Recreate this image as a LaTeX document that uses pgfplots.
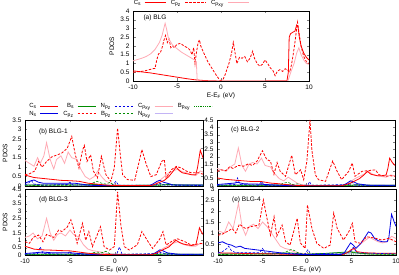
\documentclass[border=0pt]{standalone}
\usepackage{pgfplots}
\pgfplotsset{compat=1.18}
\usepackage{fontspec}
\setmainfont{Liberation Sans}
\definecolor{cred}{RGB}{255,0,0}
\definecolor{cblue}{RGB}{0,0,230}
\definecolor{cgreen}{RGB}{0,140,0}
\definecolor{lpink}{RGB}{255,170,180}
\definecolor{lpurple}{RGB}{195,180,245}
\pgfplotsset{
  cs/.style={color=cred, line width=0.8pt, solid},
  ns/.style={color=cblue, line width=0.8pt, solid},
  bs/.style={color=cgreen, line width=0.7pt, solid},
  cpz/.style={color=cred, line width=0.8pt, dash pattern=on 2.5pt off 1.5pt},
  npz/.style={color=cblue, line width=0.6pt, dash pattern=on 2.5pt off 1.5pt},
  bpz/.style={color=cgreen, line width=0.6pt, dash pattern=on 2.5pt off 1.5pt},
  cpxy/.style={color=lpink, line width=0.8pt, solid},
  npxy/.style={color=lpurple, line width=0.7pt, solid},
  bpxy/.style={color=cgreen, line width=0.6pt, dash pattern=on 0.8pt off 1pt},
  every axis/.append style={scale only axis, font=\fontsize{6.5}{7}\selectfont,
    tick align=inside, major tick length=2.5pt, axis line style={line width=0.5pt},
    /pgf/number format/assume math mode=true, xtick={-10,-5,0,5,10}, clip=true, no markers},
  mylegend/.style={legend plot pos=right, legend cell align=right,
    legend image code/.code={\draw[##1] (0pt,0pt) -- (18pt,0pt);},
    legend image post style={line width=1pt},
    legend style={draw=none, fill=none, inner sep=0pt, font=\fontsize{6}{6}\selectfont,
      nodes={inner sep=0.6pt, text height=4.3pt, text depth=1.4pt}, row sep=0.4pt,
      /tikz/every odd column/.append style={column sep=2.5pt},
      /tikz/every even column/.append style={column sep=4pt}}},
}
\begin{document}
\begin{tikzpicture}
\useasboundingbox (0,0) rectangle (399pt,275pt);
% ---------------- (a)
\begin{axis}[at={(133pt,194pt)}, anchor=south west, width=176pt, height=70pt,
  xmin=-10, xmax=10, ymin=0, ymax=4, ytick={0,0.5,...,4},
  xlabel={E-E\textsubscript{F} (eV)}, ylabel={PDOS},
  xlabel style={at={(axis description cs:0.5,-0.215)}, anchor=center},
  ylabel style={at={(axis description cs:-0.12,0.5)}, anchor=center},
  mylegend, legend columns=3,
  legend image code/.code={\draw[#1] (0pt,0pt) -- (21pt,0pt);},
  legend style={at={(0.0,1.115)}, anchor=west}]
\addplot[cs] coordinates {(-10,0.58) (-9,0.52) (-8,0.46) (-7,0.38) (-6,0.30) (-5,0.22) (-4,0.14) (-3,0.07) (-2,0.03) (-1,0.01) (0,0) (2,0) (4,0) (6,0.01) (7.5,0.02) (7.65,0.5) (7.75,2.5) (7.9,2.7) (8.2,2.8) (8.4,2.85) (8.6,3.2) (8.75,3.1) (8.9,2.5) (9.1,2.0) (9.4,1.6) (9.7,1.35) (10,1.2)};
\addlegendentry{C\textsubscript{s}}
\addplot[cpz] coordinates {(-10,0.5) (-9,0.55) (-8.3,0.62) (-7.8,0.7) (-7.5,0.72) (-7.3,1.2) (-7.1,1.55) (-6.9,1.6) (-6.7,1.9) (-6.5,2.3) (-6.3,2.6) (-6.1,2.2) (-5.9,2.4) (-5.7,1.9) (-5.5,2.0) (-5.3,1.9) (-5.0,2.1) (-4.6,2.15) (-4.2,2.0) (-3.8,1.9) (-3.5,1.75) (-3.3,1.5) (-3.1,1.9) (-2.95,1.0) (-2.8,1.6) (-2.6,2.2) (-2.45,2.35) (-2.3,2.0) (-2.0,1.65) (-1.5,1.1) (-1.0,0.7) (-0.5,0.3) (-0.1,0.03) (0.2,0.05) (0.5,0.4) (0.9,1.0) (1.2,1.6) (1.4,2.2) (1.6,1.6) (1.8,1.0) (2.1,1.35) (2.4,1.3) (2.7,1.4) (3.0,1.1) (3.3,1.3) (3.6,1.7) (3.8,1.3) (4.1,1.0) (4.4,0.85) (4.7,0.95) (5.0,1.2) (5.3,1.0) (5.6,0.75) (5.9,0.6) (6.15,0.3) (6.4,0.55) (6.7,0.65) (7.0,0.55) (7.3,0.7) (7.6,0.6) (7.8,0.5) (8.0,0.9) (8.2,1.5) (8.4,2.2) (8.6,3.0) (8.7,3.35) (8.85,2.8) (9.1,2.0) (9.4,1.4) (9.7,1.1) (10,1.0)};
\addlegendentry{C\textsubscript{p\textsubscript{z}}}
\addplot[cpxy] coordinates {(-10,1.15) (-9,1.3) (-8.5,1.4) (-8,1.55) (-7.5,1.8) (-7,2.2) (-6.7,2.6) (-6.5,3.0) (-6.35,3.3) (-6.2,3.0) (-6,2.5) (-5.8,2.3) (-5.5,2.05) (-5,1.85) (-4.5,1.65) (-4,1.5) (-3.5,1.35) (-3,1.2) (-2.8,1.1) (-2.75,0.5) (-2.7,0) (7.6,0) (7.8,0.3) (8.0,0.6) (8.3,1.0) (8.6,1.6) (8.85,1.9) (9.1,1.5) (9.4,1.2) (9.7,1.0) (10,0.95)};
\addlegendentry{C\textsubscript{p\textsubscript{xy}}}
\node[anchor=west, font=\fontsize{6.5}{7}\selectfont] at (rel axis cs:0.04,0.9) {(a) BLG};
\end{axis}
% ---------------- (b)
\begin{axis}[at={(25pt,89pt)}, anchor=south west, width=178pt, height=66pt,
  xmin=-10, xmax=9.8, ymin=0, ymax=3.5, ytick={0,0.5,...,3.5}, xticklabels={},
  ylabel={PDOS}, ylabel style={at={(axis description cs:-0.112,0.5)}, anchor=center},
  mylegend, legend columns=5,
  legend style={at={(0.02,1.15)}, anchor=west}]
\addlegendimage{cs}\addlegendimage{bs}\addlegendimage{npz}\addlegendimage{cpxy}\addlegendimage{bpxy}
\addlegendimage{ns}\addlegendimage{cpz}\addlegendimage{bpz}\addlegendimage{npxy}
\legend{C\textsubscript{s},B\textsubscript{s},N\textsubscript{p\textsubscript{z}},C\textsubscript{p\textsubscript{xy}},B\textsubscript{p\textsubscript{xy}},N\textsubscript{s},C\textsubscript{p\textsubscript{z}},B\textsubscript{p\textsubscript{z}},N\textsubscript{p\textsubscript{xy}}}
\addplot[cpxy] coordinates {(-10,1.35) (-9.5,1.2) (-9.0,1.05) (-8.6,1.5) (-8.3,1.2) (-7.9,1.6) (-7.6,2.3) (-7.2,1.4) (-6.8,0.9) (-6.5,1.4) (-6.0,1.6) (-5.6,1.2) (-5.2,1.8) (-4.8,1.5) (-4.2,1.4) (-3.8,0.9) (-3.3,0.5) (-2.8,0.35) (-2.3,0.5) (-1.9,0.8) (-1.5,0.5) (-1.0,0.25) (-0.5,0.15) (0,0.05) (1,0.02) (4,0.02) (4.5,0.1) (5.0,0.3) (5.5,0.5) (6.0,0.7) (6.5,0.8) (7.0,0.9) (7.5,0.75) (8,0.7) (8.5,0.6) (9,0.55) (9.5,0.8) (10,0.7)};
\addplot[npxy] coordinates {(-10,0.05) (-8,0.1) (-6,0.08) (-4,0.05) (0,0.0) (5,0.05) (7,0.08) (10,0.05)};
\addplot[bpxy] coordinates {(-10,0.03) (-7,0.05) (-4,0.06) (-2,0.03) (0,0) (6,0.05) (8,0.04) (10,0.05)};
\addplot[bs] coordinates {(-10,0.05) (-5,0.05) (-2,0.08) (-1.5,0.05) (0,0.02) (5,0.05) (6,0.08) (7,0.05) (10,0.05)};
\addplot[bpz] coordinates {(-10,0.02) (-3,0.05) (-2.5,0.15) (-2.0,0.25) (-1.5,0.15) (-1.0,0.1) (-0.5,0.2) (-0.2,0.05) (5,0.05) (6,0.1) (7,0.05) (10,0.02)};
\addplot[ns] coordinates {(-10,0.15) (-9.5,0.25) (-9,0.32) (-8.5,0.2) (-8,0.15) (-6,0.15) (-4.5,0.15) (-3,0.05) (-2,0.02) (3.8,0.02) (4.2,0.1) (4.7,0.25) (5.0,0.3) (5.4,0.2) (5.8,0.15) (6.5,0.05) (10,0.05)};
\addplot[npz] coordinates {(-10,0.05) (-9.6,0.15) (-9.3,0.3) (-9.0,0.1) (-8,0.05) (-5.3,0.08) (-5.0,0.2) (-4.7,0.05) (-0.2,0.05) (0.1,0.25) (0.4,0.05) (4.5,0.05) (5.0,0.15) (5.5,0.05) (10,0.02)};
\addplot[cs] coordinates {(-10,0.58) (-9,0.45) (-8,0.4) (-7,0.35) (-6,0.3) (-5,0.28) (-4,0.25) (-3,0.15) (-2,0.1) (-1,0.05) (0,0.02) (4,0.02) (4.5,0.1) (5,0.2) (5.5,0.3) (6,0.5) (6.5,0.8) (6.8,1.0) (7.2,0.8) (7.5,0.7) (8,0.65) (8.5,0.6) (9,0.6) (9.2,1.0) (9.5,1.9) (9.8,1.5) (10,1.4)};
\addplot[cpz] coordinates {(-10,0.6) (-9.5,0.65) (-8.9,0.8) (-8.5,1.3) (-8.1,1.0) (-7.6,1.3) (-7.0,1.55) (-6.4,1.65) (-5.9,1.75) (-5.3,2.0) (-4.8,2.63) (-4.4,1.65) (-4.0,0.95) (-3.6,1.9) (-3.4,2.15) (-3.1,1.3) (-2.7,1.65) (-2.4,0.8) (-1.95,0.42) (-1.5,1.57) (-1.0,0.6) (-0.45,0.25) (-0.07,0.95) (0.3,3.07) (0.6,1.66) (0.86,0.6) (1.4,0.34) (2.2,0.3) (2.7,1.3) (3.0,1.93) (3.5,1.13) (4.0,0.5) (4.6,0.6) (5.2,1.3) (5.5,1.4) (5.7,0.42) (6.3,0.87) (6.85,1.04) (7.4,0.95) (8.0,0.78) (8.5,0.7) (9.3,0.7) (10,0.6)};
\node[anchor=west, font=\fontsize{6.5}{7}\selectfont] at (rel axis cs:0.06,0.82) {(b) BLG-1};
\end{axis}
% ---------------- (c)
\begin{axis}[at={(217pt,89pt)}, anchor=south west, width=178pt, height=66pt,
  xmin=-10, xmax=10, ymin=0, ymax=4.5, ytick={0,0.5,...,4.5}, xticklabels={}]
\addplot[cpxy] coordinates {(-10,1.2) (-9.5,1.1) (-9,1.0) (-8.5,1.3) (-8,1.5) (-7.6,2.6) (-7.2,1.4) (-6.8,1.0) (-6.4,1.5) (-6,1.6) (-5.5,1.5) (-5.0,1.9) (-4.6,1.4) (-4,1.3) (-3.6,0.9) (-3,0.5) (-2.5,0.35) (-2,0.6) (-1.5,0.4) (-1,0.2) (-0.5,0.1) (0,0.05) (1,0.02) (4,0.02) (4.5,0.1) (5,0.3) (5.5,0.5) (6,0.65) (6.5,0.8) (7,1.0) (7.5,0.8) (8,0.7) (8.5,0.65) (9,0.6) (9.5,0.75) (10,0.7)};
\addplot[npxy] coordinates {(-10,0.05) (-8,0.1) (-6,0.08) (-4,0.05) (0,0.0) (5,0.05) (7,0.08) (10,0.05)};
\addplot[bpxy] coordinates {(-10,0.03) (-7,0.05) (-4,0.06) (-2,0.03) (0,0) (6,0.05) (8,0.04) (10,0.05)};
\addplot[bs] coordinates {(-10,0.05) (-5,0.05) (-2,0.08) (-1.5,0.05) (0,0.02) (5,0.05) (6,0.08) (7,0.05) (10,0.05)};
\addplot[bpz] coordinates {(-10,0.02) (-3,0.05) (-2.5,0.2) (-2.0,0.25) (-1.5,0.1) (-1.0,0.15) (-0.5,0.05) (5,0.05) (6,0.1) (7,0.05) (10,0.02)};
\addplot[ns] coordinates {(-10,0.1) (-9,0.15) (-8,0.2) (-7.7,0.25) (-7,0.15) (-5,0.12) (-3,0.05) (-1,0.02) (4,0.02) (4.5,0.15) (5.0,0.35) (5.3,0.3) (5.8,0.15) (7,0.05) (10,0.05)};
\addplot[npz] coordinates {(-10,0.05) (-8,0.1) (-7.7,0.55) (-7.4,0.1) (-5.3,0.05) (-5.0,0.3) (-4.7,0.05) (0.2,0.05) (0.4,0.3) (0.6,0.05) (4.8,0.1) (5.2,0.25) (5.6,0.05) (10,0.02)};
\addplot[cs] coordinates {(-10,0.55) (-9,0.45) (-8,0.4) (-7,0.35) (-6,0.3) (-5,0.3) (-4,0.2) (-3,0.15) (-2,0.08) (-1,0.04) (0,0.02) (4,0.02) (4.5,0.1) (5,0.2) (5.5,0.35) (6,0.5) (6.5,0.75) (6.9,1.0) (7.3,0.8) (8,0.7) (8.5,0.7) (9,0.75) (9.2,1.2) (9.4,1.9) (9.7,1.6) (10,1.4)};
\addplot[cpz] coordinates {(-10,1.0) (-9.5,1.1) (-9,1.05) (-8.6,1.3) (-8.2,1.2) (-7.6,1.4) (-7.0,1.35) (-6.5,1.5) (-6.0,1.4) (-5.5,1.7) (-4.9,2.4) (-4.4,1.8) (-4.0,1.7) (-3.6,0.8) (-3.25,1.6) (-2.9,1.0) (-2.3,0.66) (-1.6,2.1) (-1.2,0.77) (-0.6,1.1) (-0.26,0.43) (0.1,1.7) (0.45,4.5) (0.67,2.4) (1.05,0.77) (1.4,0.43) (2.2,0.32) (2.7,1.2) (3.0,1.7) (3.5,1.0) (4.0,0.43) (4.8,1.0) (5.2,1.57) (5.5,0.66) (6.3,1.0) (7.0,1.05) (7.8,1.1) (8.2,0.77) (8.9,0.66) (9.5,0.7) (10,0.66)};
\node[anchor=west, font=\fontsize{6.5}{7}\selectfont] at (rel axis cs:0.06,0.85) {(c) BLG-2};
\end{axis}
% ---------------- (d)
\begin{axis}[at={(25pt,20pt)}, anchor=south west, width=178pt, height=66pt,
  xmin=-10, xmax=9.8, ymin=0, ymax=4.5, ytick={0,0.5,...,4.5},
  xlabel={E-E\textsubscript{F} (eV)}, ylabel={PDOS},
  xlabel style={at={(axis description cs:0.5,-0.227)}, anchor=center},
  ylabel style={at={(axis description cs:-0.112,0.5)}, anchor=center}]
\addplot[cpxy] coordinates {(-10,1.2) (-9.5,1.3) (-9.1,1.5) (-8.6,1.1) (-8.1,1.3) (-7.6,2.5) (-7.2,1.5) (-6.8,1.0) (-6.4,1.4) (-6,1.5) (-5.5,1.3) (-5.0,1.7) (-4.6,1.4) (-4,1.2) (-3.5,0.7) (-3,0.4) (-2.5,0.3) (-2,0.25) (-1.5,0.2) (-1,0.1) (0,0.05) (4,0.02) (4.5,0.1) (5,0.3) (5.5,0.5) (6,0.65) (6.5,0.8) (7,0.9) (7.5,0.75) (8,0.65) (8.5,0.6) (9,0.6) (9.5,0.8) (9.8,0.75)};
\addplot[npxy] coordinates {(-10,0.05) (-8,0.1) (-6,0.08) (-4,0.05) (0,0.0) (5,0.05) (7,0.08) (9.8,0.05)};
\addplot[bpxy] coordinates {(-10,0.03) (-7,0.05) (-4,0.06) (-2,0.03) (0,0) (6,0.05) (8,0.04) (9.8,0.05)};
\addplot[bs] coordinates {(-10,0.05) (-5,0.05) (-2,0.08) (-1.5,0.05) (0,0.02) (5,0.05) (6,0.08) (7,0.05) (9.8,0.05)};
\addplot[bpz] coordinates {(-10,0.02) (-3,0.05) (-2.5,0.15) (-2.0,0.2) (-1.5,0.15) (-1.0,0.25) (-0.5,0.05) (5,0.05) (6,0.1) (7,0.05) (9.8,0.02)};
\addplot[ns] coordinates {(-10,0.1) (-9,0.15) (-8,0.2) (-7,0.15) (-5,0.15) (-3,0.05) (-1,0.02) (4,0.02) (4.5,0.15) (5.0,0.35) (5.3,0.3) (5.8,0.15) (7,0.05) (9.8,0.05)};
\addplot[npz] coordinates {(-10,0.05) (-8.6,0.1) (-8.3,0.55) (-8.0,0.1) (-5.3,0.05) (-5.0,0.25) (-4.7,0.05) (0.2,0.05) (0.5,0.55) (0.8,0.05) (4.8,0.1) (5.2,0.2) (5.6,0.05) (9.8,0.02)};
\addplot[cs] coordinates {(-10,0.6) (-9,0.4) (-8,0.35) (-7,0.33) (-6,0.3) (-5,0.28) (-4,0.2) (-3,0.12) (-2,0.07) (-1,0.03) (0,0.02) (4,0.02) (4.5,0.1) (5,0.25) (5.5,0.4) (6,0.55) (6.5,0.85) (6.8,1.0) (7.2,0.85) (7.6,0.75) (8,0.7) (8.5,0.65) (9,0.7) (9.2,1.2) (9.4,1.85) (9.6,1.6) (9.8,1.4)};
\addplot[cpz] coordinates {(-10,0.9) (-9.5,0.8) (-9.1,1.2) (-8.5,1.36) (-8.0,0.9) (-7.6,1.4) (-6.8,1.2) (-6.25,1.7) (-5.9,1.6) (-5.3,1.9) (-4.9,2.4) (-4.6,1.8) (-4.2,0.8) (-3.6,2.16) (-3.25,1.0) (-2.9,1.6) (-2.5,0.57) (-1.6,1.93) (-1.2,0.57) (-0.6,0.34) (-0.07,0.57) (0.3,4.3) (0.67,2.0) (1.05,0.57) (1.6,0.34) (2.5,0.7) (3.0,1.6) (3.7,0.9) (4.2,0.45) (5.0,1.1) (5.35,1.6) (5.7,0.68) (6.5,1.0) (7.0,1.1) (7.8,0.9) (8.5,0.68) (9.2,0.75) (9.8,0.8)};
\node[anchor=west, font=\fontsize{6.5}{7}\selectfont] at (rel axis cs:0.06,0.83) {(d) BLG-3};
\end{axis}
% ---------------- (e)
\begin{axis}[at={(218pt,20pt)}, anchor=south west, width=178pt, height=66pt,
  xmin=-10, xmax=10, ymin=0, ymax=3, ytick={0,0.5,...,3},
  xlabel={E-E\textsubscript{F} (eV)},
  xlabel style={at={(axis description cs:0.5,-0.227)}, anchor=center}]
\addplot[cpxy] coordinates {(-10,1.1) (-9.3,1.0) (-8.8,1.5) (-8.3,1.2) (-7.7,2.35) (-7.3,1.3) (-6.9,0.9) (-6.5,1.3) (-6,1.4) (-5.5,1.2) (-5,1.5) (-4.5,1.3) (-4,1.0) (-3.5,0.7) (-3,0.4) (-2.5,0.3) (-2,0.25) (-1.5,0.15) (-1,0.1) (0,0.05) (4,0.02) (4.5,0.1) (5,0.2) (5.5,0.35) (6,0.5) (6.5,0.65) (7,0.8) (7.5,0.7) (8,0.6) (8.5,0.55) (9,0.6) (9.5,0.85) (10,0.75)};
\addplot[npxy] coordinates {(-10,0.05) (-8,0.1) (-6,0.08) (-4,0.05) (0,0.0) (5,0.05) (7,0.08) (10,0.05)};
\addplot[bpxy] coordinates {(-10,0.03) (-7,0.05) (-4,0.06) (-2,0.03) (0,0) (6,0.05) (8,0.04) (10,0.05)};
\addplot[bs] coordinates {(-10,0.04) (-4,0.05) (-2,0.1) (0,0.02) (5,0.15) (5.5,0.1) (7,0.05) (10,0.04)};
\addplot[bpz] coordinates {(-10,0.02) (-3,0.05) (-2.3,0.15) (-1.8,0.25) (-1.4,0.2) (-1.0,0.1) (-0.5,0.05) (5,0.1) (5.5,0.15) (6,0.05) (10,0.02)};
\addplot[cs] coordinates {(-10,0.1) (-8,0.08) (-6,0.06) (-4,0.05) (-2,0.03) (0,0.02) (4,0.02) (4.5,0.1) (5,0.25) (5.3,0.3) (5.6,0.15) (6.5,0.1) (8,0.08) (10,0.08)};
\addplot[npz] coordinates {(-10,0.1) (-9.5,0.15) (-9.0,0.3) (-8.8,0.4) (-8.5,0.2) (-8,0.1) (-5.3,0.1) (-5.0,0.3) (-4.7,0.1) (-0.2,0.05) (0.1,0.25) (0.4,0.05) (4.8,0.1) (5.2,0.35) (5.6,0.1) (10,0.05)};
\addplot[ns] coordinates {(-10,0.55) (-9.5,0.6) (-9,0.5) (-8.5,0.45) (-8,0.35) (-7.5,0.4) (-7,0.3) (-6,0.25) (-5,0.2) (-4,0.15) (-3,0.1) (-2,0.05) (-1,0.03) (0,0.02) (3.8,0.02) (4.2,0.1) (4.5,0.3) (4.9,0.55) (5.2,0.45) (5.5,0.3) (6,0.5) (6.5,0.8) (6.9,1.05) (7.2,1.0) (7.6,0.75) (8,0.65) (8.5,0.6) (9,0.6) (9.2,0.8) (9.5,1.85) (9.8,1.5) (10,1.3)};
\addplot[cpz] coordinates {(-10,0.9) (-9.5,0.95) (-9.0,1.06) (-8.4,1.2) (-8.0,1.0) (-7.6,1.4) (-6.9,1.2) (-6.2,1.3) (-5.4,1.36) (-4.9,2.5) (-4.5,1.67) (-4.1,0.9) (-3.7,1.74) (-3.4,0.85) (-2.8,1.36) (-2.4,0.6) (-1.9,0.45) (-1.1,1.67) (-0.75,0.55) (-0.2,0.3) (0.05,2.27) (0.56,1.2) (1.1,0.53) (1.9,0.3) (2.6,0.45) (3.0,1.9) (3.4,1.2) (4.1,0.68) (4.7,1.06) (5.1,1.44) (5.4,0.6) (6.0,0.53) (6.7,0.83) (7.2,0.8) (7.7,0.76) (8.4,0.68) (9.2,0.76) (10,0.6)};
\node[anchor=west, font=\fontsize{6.5}{7}\selectfont] at (rel axis cs:0.06,0.83) {(e) BLG-4};
\end{axis}
\end{tikzpicture}
\end{document}
